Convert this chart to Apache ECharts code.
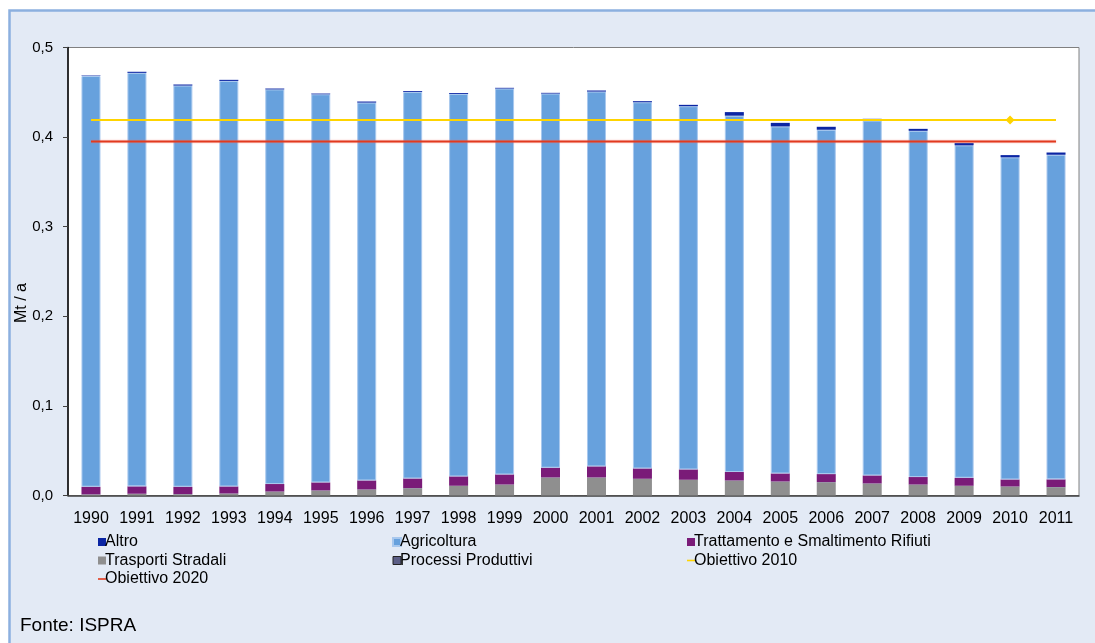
<!DOCTYPE html>
<html>
<head>
    <meta charset="utf-8">
    <title>Emissioni di metano - Mt / a</title>
    <script src="https://cdn.jsdelivr.net/npm/echarts@6/dist/echarts.min.js"></script>
    <style>
        html, body { margin: 0; padding: 0; background: #fff; }
        #main { width: 1095px; height: 643px; }
    </style>
</head>
<body>
<div id="main"></div>
<script>
// dati (Mt / a)
var anni = ['1990', '1991', '1992', '1993', '1994', '1995', '1996', '1997', '1998', '1999', '2000',
    '2001', '2002', '2003', '2004', '2005', '2006', '2007', '2008', '2009', '2010', '2011'];
var trasporti = [0.001, 0.0017, 0.0013, 0.002, 0.0042, 0.0054, 0.0065, 0.008, 0.0106, 0.012, 0.0199,
    0.0199, 0.0184, 0.0173, 0.0165, 0.0154, 0.0147, 0.0132, 0.012, 0.0106, 0.0098, 0.0092];
var processi = [0.0003, 0.0003, 0.0003, 0.0003, 0.0003, 0.0003, 0.0003, 0.0003, 0.0003, 0.0003, 0.0003,
    0.0003, 0.0003, 0.0003, 0.0003, 0.0003, 0.0003, 0.0003, 0.0003, 0.0003, 0.0003, 0.0003];
var trattamento = [0.0085, 0.0082, 0.0082, 0.0078, 0.0083, 0.0089, 0.01, 0.0107, 0.0104, 0.0112, 0.0108,
    0.0123, 0.0115, 0.0115, 0.0094, 0.0089, 0.0089, 0.0089, 0.0083, 0.0089, 0.0078, 0.0085];
var agricoltura = [0.4584, 0.4615, 0.4477, 0.4526, 0.4404, 0.4332, 0.4217, 0.4313, 0.4268, 0.4307, 0.4176,
    0.4183, 0.4087, 0.4054, 0.3977, 0.3873, 0.3843, 0.396, 0.3864, 0.371, 0.3595, 0.3623];
var altro = [0.0005, 0.0012, 0.0012, 0.0012, 0.001, 0.0008, 0.0012, 0.001, 0.001, 0.0008, 0.0008,
    0.0012, 0.0012, 0.0015, 0.004, 0.004, 0.0033, 0.002, 0.0022, 0.0025, 0.0025, 0.0025];
var obiettivo2010 = 0.419;
var obiettivo2020 = 0.395;
var annoMarker2010 = '2010';

var font = 'Liberation Sans, Arial, sans-serif';
var iconaLinea = 'path://M0,0 L8,0 L8,1.6 L0,1.6 Z';

var chart = echarts.init(document.getElementById('main'));

// linee obiettivo: stesso valore su tutti gli anni, marker solo sul 2010
var dati2010 = anni.map(function (a) {
    if (a === annoMarker2010) {
        return { value: obiettivo2010, symbol: 'diamond', symbolSize: 9 };
    }
    return obiettivo2010;
});
var dati2020 = anni.map(function () { return obiettivo2020; });

function barra(nome, dati, colore, bordo) {
    return {
        name: nome,
        type: 'bar',
        stack: 'tot',
        barWidth: 19,
        data: dati,
        itemStyle: bordo ? { color: colore, borderColor: bordo, borderWidth: 1 } : { color: colore },
        emphasis: { disabled: true }
    };
}

var legendaBase = {
    orient: 'vertical',
    top: 534,
    itemWidth: 8,
    itemHeight: 8,
    itemGap: 2.5,
    padding: 0,
    symbolKeepAspect: true,
    selectedMode: false,
    textStyle: { fontFamily: font, fontSize: 16, color: '#000', padding: [0, 0, 0, -6], lineHeight: 16 }
};

option = {
    backgroundColor: '#fff',
    animation: false,
    graphic: [{
        type: 'rect',
        z: -10,
        shape: { x: 9.5, y: 10.5, width: 1100, height: 650 },
        style: { fill: '#E3EAF5', stroke: '#8CB0DF', lineWidth: 2.5 }
    }, {
        type: 'text',
        left: 20,
        top: 616,
        style: { text: 'Fonte: ISPRA', font: '19px ' + font, fill: '#000' }
    }, {
        // titolo asse y
        type: 'text',
        x: 22,
        y: 303,
        rotation: Math.PI / 2,
        style: { text: 'Mt / a', font: '16px ' + font, fill: '#000', align: 'center', verticalAlign: 'middle' }
    }],
    grid: {
        left: 68,
        right: 16,
        top: 47.5,
        bottom: 147.5,
        show: true,
        backgroundColor: '#fff',
        borderColor: '#808080',
        borderWidth: 1
    },
    legend: [
        Object.assign({}, legendaBase, {
            left: 98,
            data: [
                { name: 'Altro', icon: 'rect' },
                { name: 'Trasporti Stradali', icon: 'rect' },
                { name: 'Obiettivo 2020', icon: iconaLinea }
            ]
        }),
        Object.assign({}, legendaBase, {
            left: 392,
            data: [
                { name: 'Agricoltura', icon: 'rect' },
                { name: 'Processi Produttivi', icon: 'rect', itemStyle: { borderColor: '#222', borderWidth: 1 } }
            ]
        }),
        Object.assign({}, legendaBase, {
            left: 687,
            data: [
                { name: 'Trattamento e Smaltimento Rifiuti', icon: 'rect' },
                { name: 'Obiettivo 2010', icon: iconaLinea }
            ]
        })
    ],
    xAxis: {
        type: 'category',
        data: anni,
        boundaryGap: true,
        axisLine: { lineStyle: { color: '#404040', width: 1.5 } },
        axisTick: { length: 5, lineStyle: { color: '#404040' } },
        axisLabel: { fontFamily: font, fontSize: 16, color: '#000', margin: 15, interval: 0 }
    },
    yAxis: {
        type: 'value',
        min: 0,
        max: 0.5,
        interval: 0.1,
        axisLine: { show: true, lineStyle: { color: '#000', width: 1.5 } },
        axisTick: { show: true, length: 5, lineStyle: { color: '#404040' } },
        splitLine: { show: false },
        axisLabel: {
            fontFamily: font,
            fontSize: 15,
            color: '#000',
            margin: 15,
            formatter: function (v) { return v.toFixed(1).replace('.', ','); }
        }
    },
    series: [
        barra('Trasporti Stradali', trasporti, '#8F8F8F'),
        barra('Processi Produttivi', processi, '#5B5E86'),
        barra('Trattamento e Smaltimento Rifiuti', trattamento, '#7A1B78'),
        barra('Agricoltura', agricoltura, '#67A1DD', '#A8C8EE'),
        barra('Altro', altro, '#0B25A3'),
        {
            name: 'Obiettivo 2010',
            type: 'line',
            data: dati2010,
            symbol: 'none',
            showSymbol: true,
            itemStyle: { color: '#FFD400' },
            lineStyle: { color: '#FFD400', width: 2 },
            emphasis: { disabled: true },
            z: 5
        },
        {
            name: 'Obiettivo 2020',
            type: 'line',
            data: dati2020,
            symbol: 'none',
            itemStyle: { color: '#E23A1E' },
            lineStyle: { color: '#E23A1E', width: 2, shadowColor: 'rgba(240,120,110,0.6)', shadowBlur: 2 },
            emphasis: { disabled: true },
            z: 5
        }
    ]
};
chart.setOption(option);
</script>
</body>
</html>
